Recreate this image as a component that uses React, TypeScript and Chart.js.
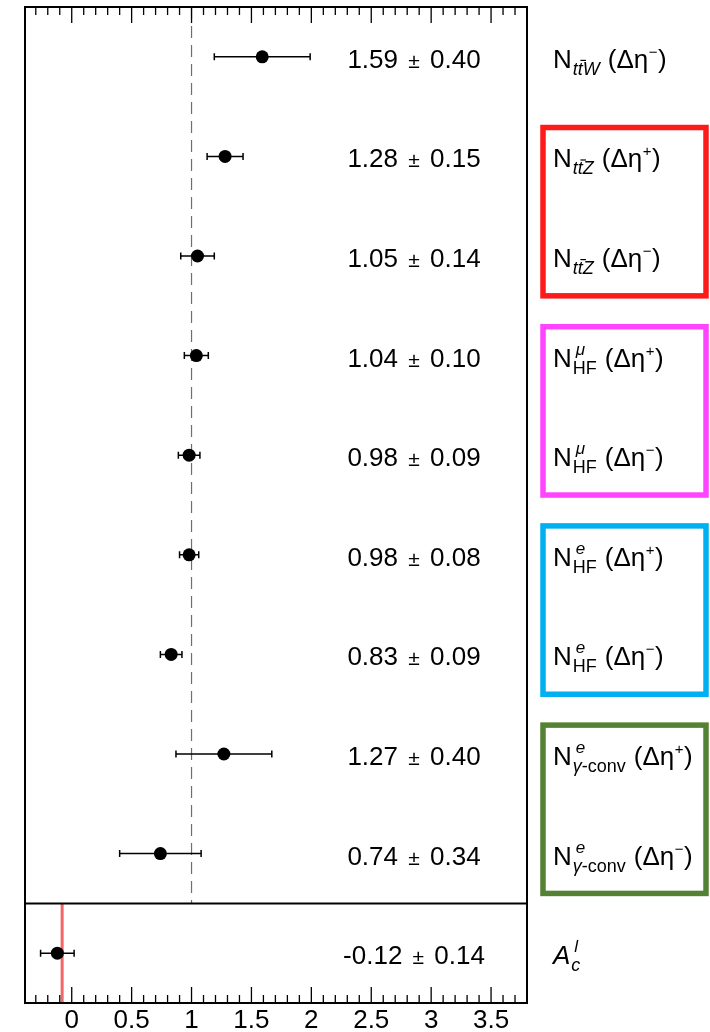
import { useEffect, useRef } from "react";
import { Chart, registerables } from "chart.js";

Chart.register(...registerables);

// Fitted parameters, top to bottom (last row is the charge asymmetry)
const values = [1.59, 1.28, 1.05, 1.04, 0.98, 0.98, 0.83, 1.27, 0.74, -0.12];
const errors = [0.4, 0.15, 0.14, 0.1, 0.09, 0.08, 0.09, 0.4, 0.34, 0.14];

// Parameter names: segments between '*' are italic
const rowBase = ["N", "N", "N", "N", "N", "N", "N", "N", "N", "*A*"];
const rowSub = [
  "*tt\u0304W*",
  "*tt\u0304Z*",
  "*tt\u0304Z*",
  "HF",
  "HF",
  "HF",
  "HF",
  "*γ*-conv",
  "*γ*-conv",
  "*c*",
];
const rowSup = ["", "", "", "μ", "μ", "e", "e", "e", "e", "l"];
const rowSign = ["−", "+", "−", "+", "−", "+", "−", "+", "−", ""];

// Grouped normalisation factors (first row, last row) and frame colours
const groupRows = [
  [1, 2],
  [3, 4],
  [5, 6],
  [7, 8],
];
const groupColors = ["#ff1a1a", "#ff44ff", "#00b0f0", "#548235"];

const unityLine = 1;
const asymmetryReference = -0.08;
const panelSplit = 8.5;

const SANS = '"Liberation Sans", Arial, Helvetica, sans-serif';

function setFont(ctx: CanvasRenderingContext2D, size: number, italic: boolean) {
  ctx.font = `${italic ? "italic " : ""}${size}px ${SANS}`;
}

// Draws text with '*' toggling italics and U+0304 giving an overbar; returns width
function drawRich(
  ctx: CanvasRenderingContext2D,
  text: string,
  x: number,
  y: number,
  size: number,
  forceItalic = false
) {
  const parts = text.split("*");
  let cx = x;
  parts.forEach((part, idx) => {
    const italic = forceItalic || idx % 2 === 1;
    setFont(ctx, size, italic);
    const chars = Array.from(part);
    for (let i = 0; i < chars.length; i++) {
      const ch = chars[i];
      if (ch === "\u0304") continue;
      ctx.fillText(ch, cx, y);
      const w = ctx.measureText(ch).width;
      if (chars[i + 1] === "\u0304") {
        const shift = italic ? size * 0.12 : 0;
        ctx.save();
        ctx.lineWidth = 1.2;
        ctx.beginPath();
        ctx.moveTo(cx + shift + 0.5, y - size * 0.8);
        ctx.lineTo(cx + shift + w + 1, y - size * 0.8);
        ctx.stroke();
        ctx.restore();
      }
      cx += w;
    }
  });
  return cx - x;
}

const decor = {
  id: "decor",
  beforeDatasetsDraw(chart: any) {
    const { ctx, chartArea, scales } = chart;
    const xs = scales.x;
    const ys = scales.y;
    ctx.save();
    // unity reference in the upper panel
    ctx.strokeStyle = "#6e6e6e";
    ctx.lineWidth = 1.2;
    ctx.setLineDash([12, 7]);
    ctx.beginPath();
    const xu = xs.getPixelForValue(unityLine);
    ctx.moveTo(xu, chartArea.top);
    ctx.lineTo(xu, ys.getPixelForValue(panelSplit));
    ctx.stroke();
    ctx.setLineDash([]);
    // asymmetry reference in the lower panel
    ctx.strokeStyle = "#f26666";
    ctx.lineWidth = 3;
    ctx.beginPath();
    const xr = xs.getPixelForValue(asymmetryReference);
    ctx.moveTo(xr, ys.getPixelForValue(panelSplit));
    ctx.lineTo(xr, chartArea.bottom);
    ctx.stroke();
    // horizontal error bars
    ctx.strokeStyle = "#000";
    ctx.lineWidth = 1.5;
    values.forEach((v, i) => {
      const y = ys.getPixelForValue(i);
      const x0 = xs.getPixelForValue(v - errors[i]);
      const x1 = xs.getPixelForValue(v + errors[i]);
      ctx.beginPath();
      ctx.moveTo(x0, y);
      ctx.lineTo(x1, y);
      ctx.moveTo(x0, y - 3.5);
      ctx.lineTo(x0, y + 3.5);
      ctx.moveTo(x1, y - 3.5);
      ctx.lineTo(x1, y + 3.5);
      ctx.stroke();
    });
    ctx.restore();
  },
  afterDraw(chart: any) {
    const { ctx, chartArea, scales } = chart;
    const xs = scales.x;
    const ys = scales.y;
    const { left, right, top, bottom } = chartArea;
    ctx.save();
    ctx.strokeStyle = "#000";
    ctx.fillStyle = "#000";

    // frame and panel divider
    ctx.lineWidth = 2;
    ctx.strokeRect(left, top, right - left, bottom - top);
    const ySplit = ys.getPixelForValue(panelSplit);
    ctx.beginPath();
    ctx.moveTo(left, ySplit);
    ctx.lineTo(right, ySplit);
    ctx.stroke();

    // inward tick marks on the top and bottom edges
    ctx.lineWidth = 1.3;
    ctx.beginPath();
    for (let k = Math.ceil(xs.min * 10); k <= Math.floor(xs.max * 10); k++) {
      const x = xs.getPixelForValue(k / 10);
      if (x <= left + 1 || x >= right - 1) continue;
      const len = k % 5 === 0 ? 16 : 8;
      ctx.moveTo(x, top);
      ctx.lineTo(x, top + len);
      ctx.moveTo(x, bottom);
      ctx.lineTo(x, bottom - len);
    }
    ctx.stroke();

    // value labels
    const valueCenter = 414;
    const pmGap = 3;
    values.forEach((v, i) => {
      const y = ys.getPixelForValue(i) + 11;
      const a = v.toFixed(2);
      const b = errors[i].toFixed(2);
      setFont(ctx, 26, false);
      const wa = ctx.measureText(a + " ").width + pmGap;
      const wb = ctx.measureText(" " + b).width + pmGap;
      setFont(ctx, 21, false);
      const wpm = ctx.measureText("±").width;
      let x = valueCenter - (wa + wpm + wb) / 2;
      setFont(ctx, 26, false);
      ctx.fillText(a, x, y);
      x += wa;
      setFont(ctx, 21, false);
      ctx.fillText("±", x, y);
      x += wpm + pmGap;
      setFont(ctx, 26, false);
      ctx.fillText(" " + b, x, y);
    });

    // parameter names
    const nameX = 553;
    rowBase.forEach((base, i) => {
      const y = ys.getPixelForValue(i) + 11;
      let x = nameX;
      x += drawRich(ctx, base, x, y, 26) + 1;
      const ws = rowSub[i] ? drawRich(ctx, rowSub[i], x, y + 7, 18) : 0;
      const wsup = rowSup[i] ? drawRich(ctx, rowSup[i], x + 3, y - 12, 17, true) + 3 : 0;
      x += Math.max(ws, wsup) + 8;
      if (rowSign[i]) {
        x += drawRich(ctx, "(Δη", x, y, 26);
        x += drawRich(ctx, rowSign[i], x + 0.5, y - 11, 15) + 1;
        drawRich(ctx, ")", x, y, 26);
      }
    });

    // coloured frames around grouped factors
    ctx.lineWidth = 5.5;
    groupRows.forEach(([a, b], g) => {
      const y0 = ys.getPixelForValue(a - 0.29);
      const y1 = ys.getPixelForValue(b + 0.4);
      ctx.strokeStyle = groupColors[g];
      ctx.strokeRect(543, y0, 706 - 543, y1 - y0);
    });
    ctx.restore();
  },
};

export default function App() {
  const ref = useRef<HTMLCanvasElement>(null);
  useEffect(() => {
    const chart = new Chart(ref.current as HTMLCanvasElement, {
      type: "scatter",
      data: {
        datasets: [
          {
            data: values.map((v, i) => ({ x: v, y: i })),
            pointRadius: 6.5,
            pointHoverRadius: 6.5,
            pointBackgroundColor: "#000",
            pointBorderColor: "#000",
            pointBorderWidth: 0,
          },
        ],
      },
      options: {
        animation: false,
        responsive: false,
        events: [],
        layout: { padding: { left: 25, right: 183, top: 7, bottom: 0 } },
        plugins: { legend: { display: false }, tooltip: { enabled: false } },
        scales: {
          x: {
            type: "linear",
            position: "bottom",
            min: -0.39,
            max: 3.8,
            grid: { display: false, drawTicks: false },
            border: { display: false },
            ticks: {
              stepSize: 0.5,
              includeBounds: false,
              autoSkip: false,
              maxRotation: 0,
              padding: 5,
              color: "#000",
              font: { family: SANS, size: 26, lineHeight: 1 },
              callback: (v: any) => String(Number(v)),
            },
            afterFit: (s: any) => {
              s.height = 29;
            },
          },
          y: {
            type: "linear",
            min: -0.5,
            max: 9.5,
            reverse: true,
            display: false,
          },
        },
      },
      plugins: [decor],
    });
    return () => chart.destroy();
  }, []);
  return (
    <div
      style={{
        position: "fixed",
        left: 0,
        top: 0,
        width: 710,
        height: 1032,
        background: "#fff",
      }}
    >
      <canvas ref={ref} width={710} height={1032} style={{ display: "block" }} />
    </div>
  );
}
